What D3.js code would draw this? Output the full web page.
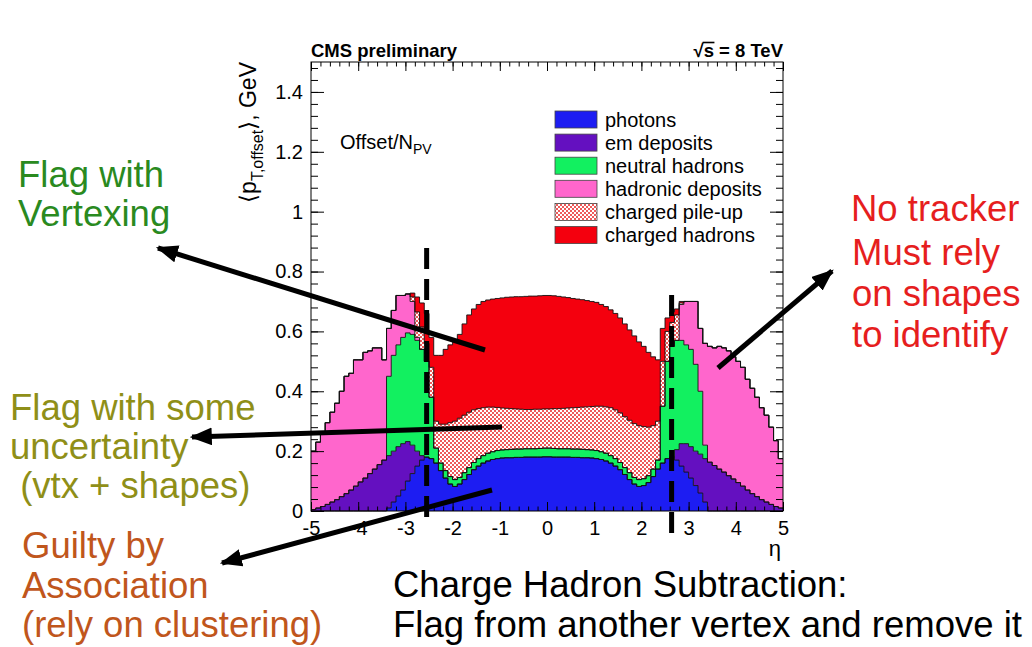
<!DOCTYPE html>
<html>
<head>
<meta charset="utf-8">
<script src="https://cdn.jsdelivr.net/npm/d3@7"></script>
<style>
  body { margin: 0; background: #fff; }
  svg { display: block; }
  text { font-family: "Liberation Sans", Arial, Helvetica, sans-serif; }
</style>
</head>
<body>
<svg id="chart" width="1032" height="647"></svg>
<script>
// Mean offset pT per pile-up vertex, stacked by PF candidate type, 0.1-wide eta bins from -5 to 5
const etaMin = -5, etaMax = 5, nBins = 100;

const photons = [
  0,0,0,0,0,0,0,0,0,0,0,0,0,0,0,0,
  .01,.03,.05,.07,.10,.125,.15,.17,.18,.175,.16,.135,.11,.09,.082,.09,.105,.122,.138,.15,
  .16,.167,.172,.175,.177,.178,.178,.179,.179,.18,.18,.18,.18,.181,.181,.18,.18,.18,.18,.179,
  .179,.178,.178,.177,.175,.172,.167,.16,.15,.138,.122,.105,.09,.082,.085,.095,.115,.14,.16,.175,
  .18,.17,.15,.13,.11,.085,.06,.03,
  0,0,0,0,0,0,0,0,0,0,0,0,0,0,0,0
];
const emDeposits = [
  .005,.01,.015,.022,.03,.038,.048,.058,.07,.083,.097,.11,.125,.14,.155,.17,
  .175,.17,.165,.155,.132,.095,.05,.015,
  0,0,0,0,0,0,0,0,0,0,0,0,0,0,0,0,0,0,0,0,0,0,0,0,0,0,0,0,0,0,0,0,0,0,0,0,0,0,0,0,0,0,0,0,0,0,0,0,0,0,0,0,0,
  .035,.075,.095,.105,.115,.13,.145,.163,.152,.14,.13,.118,.107,.095,.083,.07,.058,.048,.038,.03,.022,.015,.01
];
const neutralHadrons = [
  0,0,0,0,0,0,0,0,0,0,0,0,0,0,0,0,
  .265,.32,.34,.355,.363,.37,.37,.355,.32,.205,.05,.025,.025,.025,.023,.022,.023,.023,.024,.025,
  .025,.026,.026,.027,.027,.027,.028,.028,.028,.028,.028,.028,.029,.029,.029,.029,.028,.028,.028,.028,
  .028,.028,.027,.027,.027,.026,.026,.025,.025,.024,.023,.023,.022,.023,.023,.023,.025,.03,.19,.325,
  .37,.365,.345,.33,.325,.29,.21,.045,
  0,0,0,0,0,0,0,0,0,0,0,0,0,0,0,0
];
const hadronicDeposits = [
  .195,.22,.245,.273,.30,.322,.352,.392,.39,.422,.408,.42,.41,.405,.39,.335,
  .16,.15,.165,.14,.13,.11,.01,
  0,0,0,0,0,0,0,0,0,0,0,0,0,0,0,0,0,0,0,0,0,0,0,0,0,0,0,0,0,0,0,0,0,0,0,0,0,0,0,0,0,0,0,0,0,0,0,0,0,0,0,0,0,0,0,
  .12,.145,.16,.21,.21,.34,.387,.393,.41,.415,.417,.408,.405,.397,.37,.352,.332,.307,.29,.258,.22,.165
];
const chargedPileUp = [
  0,0,0,0,0,0,0,0,0,0,0,0,0,0,0,0,0,0,0,0,0,
  .015,.085,.075,.06,.10,.09,.13,.155,.18,.195,.198,.192,.185,.176,.167,.16,.154,.149,.144,.14,
  .138,.136,.134,.133,.131,.131,.132,.131,.131,.131,.133,.134,.135,.136,.138,.139,.141,.143,.145,.148,
  .152,.155,.16,.163,.166,.17,.175,.18,.18,.174,.162,.145,.13,.15,.10,.08,.085,.005,
  0,0,0,0,0,0,0,0,0,0,0,0,0,0,0,0,0,0,0,0,0
];
const chargedHadrons = [
  0,0,0,0,0,0,0,0,0,0,0,0,0,0,0,0,0,0,0,0,0,
  .013,.05,.08,.10,.10,.22,.23,.25,.26,.27,.28,.305,.325,.337,.348,.355,.358,.361,.364,.368,
  .371,.373,.375,.376,.378,.379,.378,.379,.379,.379,.377,.375,.372,.369,.365,.362,.359,.355,.351,.347,
  .34,.335,.327,.322,.317,.31,.302,.293,.28,.268,.25,.23,.205,.11,.045,.035,.02,.005,
  0,0,0,0,0,0,0,0,0,0,0,0,0,0,0,0,0,0,0,0,0
];

const seriesKeys   = ["photons", "emDeposits", "neutralHadrons", "hadronicDeposits", "chargedPileUp", "chargedHadrons"];
const legendLabels = ["photons", "em deposits", "neutral hadrons", "hadronic deposits", "charged pile-up", "charged hadrons"];
const seriesFill   = ["#1d1df2", "#6410c0", "#12f060", "#ff66cc", "url(#pileupFill)", "#f4000e"];

const xTicks = [-5, -4, -3, -2, -1, 0, 1, 2, 3, 4, 5];
const yTicks = [0, 0.2, 0.4, 0.6, 0.8, 1, 1.2, 1.4];

const svg = d3.select("#chart");
const frame = { left: 311, right: 783, top: 62, bottom: 511 };
const x = d3.scaleLinear().domain([etaMin, etaMax]).range([frame.left, frame.right]);
const y = d3.scaleLinear().domain([0, 1.5]).range([frame.bottom, frame.top]);
const binWidth = (etaMax - etaMin) / nBins;
const edge = i => etaMin + i * binWidth;

// checkered fill for the charged pile-up component
const defs = svg.append("defs");
const pat = defs.append("pattern").attr("id", "pileupFill")
  .attr("width", 4).attr("height", 4).attr("patternUnits", "userSpaceOnUse");
pat.append("rect").attr("width", 4).attr("height", 4).attr("fill", "#fff");
pat.append("rect").attr("width", 2).attr("height", 2).attr("fill", "#ee5a5a");
pat.append("rect").attr("x", 2).attr("y", 2).attr("width", 2).attr("height", 2).attr("fill", "#ee5a5a");

const arrowHead = defs.append("marker").attr("id", "arrowHead")
  .attr("markerUnits", "userSpaceOnUse").attr("viewBox", "0 0 20 16")
  .attr("markerWidth", 22).attr("markerHeight", 18).attr("refX", 18).attr("refY", 8)
  .attr("orient", "auto");
arrowHead.append("path").attr("d", "M0,0 L20,8 L0,16 Z").attr("fill", "#000");

// stacked histogram
const source = { photons, emDeposits, neutralHadrons, hadronicDeposits, chargedPileUp, chargedHadrons };
const rows = d3.range(nBins).map(i => {
  const r = { i };
  seriesKeys.forEach(k => { r[k] = source[k][i]; });
  return r;
});
const layers = d3.stack().keys(seriesKeys)(rows);

const stepPoints = layer => layer.flatMap((d, i) => [
  { e: edge(i), y0: d[0], y1: d[1] },
  { e: edge(i + 1), y0: d[0], y1: d[1] }
]);
const area = d3.area().x(p => x(p.e)).y0(p => y(p.y0)).y1(p => y(p.y1));
const topLine = d3.line().x(p => x(p.e)).y(p => y(p.y1));

const gHist = svg.append("g");
layers.forEach((layer, k) => {
  gHist.append("path").attr("d", area(stepPoints(layer))).attr("fill", seriesFill[k]).attr("stroke", "none");
});
layers.forEach(layer => {
  gHist.append("path").attr("d", topLine(stepPoints(layer)))
    .attr("fill", "none").attr("stroke", "#111").attr("stroke-width", 0.9);
});

// frame and axes (ticks on all four sides, pointing inward)
svg.append("rect").attr("x", frame.left).attr("y", frame.top)
  .attr("width", frame.right - frame.left).attr("height", frame.bottom - frame.top)
  .attr("fill", "none").attr("stroke", "#000").attr("stroke-width", 1);

const xMinor = d3.range(0, 51).map(i => etaMin + i * 0.2);
const yMinor = d3.range(0, 38).map(i => i * 0.04);
const tickStyle = g => {
  g.select(".domain").remove();
  g.selectAll("line").attr("stroke", "#000").attr("stroke-width", 1);
  g.selectAll("text").attr("fill", "#000").style("font-size", "20px")
    .style("font-family", "'Liberation Sans', Arial, Helvetica, sans-serif");
};

svg.append("g").attr("transform", `translate(0,${frame.bottom})`)
  .call(d3.axisBottom(x).tickValues(xMinor).tickSize(-4.5).tickFormat("")).call(tickStyle);
svg.append("g").attr("transform", `translate(0,${frame.bottom})`)
  .call(d3.axisBottom(x).tickValues(xTicks).tickSize(-9).tickPadding(10).tickFormat(d => String(d))).call(tickStyle);
svg.append("g").attr("transform", `translate(0,${frame.top})`)
  .call(d3.axisTop(x).tickValues(xMinor).tickSize(-4.5).tickFormat("")).call(tickStyle);
svg.append("g").attr("transform", `translate(0,${frame.top})`)
  .call(d3.axisTop(x).tickValues(xTicks).tickSize(-9).tickFormat("")).call(tickStyle);

svg.append("g").attr("transform", `translate(${frame.left},0)`)
  .call(d3.axisLeft(y).tickValues(yMinor).tickSize(-7).tickFormat("")).call(tickStyle);
svg.append("g").attr("transform", `translate(${frame.left},0)`)
  .call(d3.axisLeft(y).tickValues(yTicks).tickSize(-13).tickPadding(8).tickFormat(d => String(d))).call(tickStyle);
svg.append("g").attr("transform", `translate(${frame.right},0)`)
  .call(d3.axisRight(y).tickValues(yMinor).tickSize(-7).tickFormat("")).call(tickStyle);
svg.append("g").attr("transform", `translate(${frame.right},0)`)
  .call(d3.axisRight(y).tickValues(yTicks).tickSize(-13).tickFormat("")).call(tickStyle);

// axis titles
const yTitle = svg.append("text").attr("transform", `translate(256,${frame.top}) rotate(-90)`)
  .attr("text-anchor", "end").style("font-size", "23px").attr("fill", "#000");
yTitle.append("tspan").text("\u27E8p");
yTitle.append("tspan").attr("dy", 7).style("font-size", "16px").text("T,offset");
yTitle.append("tspan").attr("dy", -7).text("\u27E9, GeV");

svg.append("text").attr("x", frame.right - 2).attr("y", 556).attr("text-anchor", "end")
  .style("font-size", "22px").text("\u03B7");

// header
svg.append("text").attr("x", frame.left).attr("y", 57).style("font-size", "18.5px")
  .style("font-weight", "bold").text("CMS preliminary");
const energy = svg.append("text").attr("x", frame.right).attr("y", 57).attr("text-anchor", "end")
  .style("font-size", "18.5px").style("font-weight", "bold").text("\u221As = 8 TeV");
// bar of the radical over "s"
const en = energy.node();
const sx0 = en.getStartPositionOfChar(1).x, sx1 = en.getEndPositionOfChar(1).x;
svg.append("line").attr("x1", sx0 - 1).attr("x2", sx1 + 0.5).attr("y1", 42.5).attr("y2", 42.5)
  .attr("stroke", "#000").attr("stroke-width", 1.6);

const offTxt = svg.append("text").attr("x", 340).attr("y", 149).style("font-size", "20px");
offTxt.append("tspan").text("Offset/N");
offTxt.append("tspan").attr("dy", 5).style("font-size", "14px").text("PV");

// legend
const legend = svg.append("g");
legendLabels.forEach((lab, k) => {
  const cy = 119.5 + k * 23.1;
  legend.append("rect").attr("x", 555).attr("y", cy - 8.5).attr("width", 42).attr("height", 17)
    .attr("fill", seriesFill[k]).attr("stroke", "#444").attr("stroke-width", 0.8);
  legend.append("text").attr("x", 605).attr("y", cy + 7).style("font-size", "20px").text(lab);
});

// eta boundaries of the tracker / calorimeter transition
const boundaries = [
  { eta: -2.55, top: 248, bottom: 525 },
  { eta: 2.64, top: 295, bottom: 540 }
];
boundaries.forEach(b => {
  svg.append("line").attr("x1", x(b.eta)).attr("x2", x(b.eta)).attr("y1", b.top).attr("y2", b.bottom)
    .attr("stroke", "#000").attr("stroke-width", 5).attr("stroke-dasharray", "21,10");
});

// callout arrows
const arrows = [
  { from: [485, 350], to: [158, 248] },
  { from: [502, 427], to: [192, 437] },
  { from: [492, 490], to: [222, 563] },
  { from: [718, 368], to: [832, 271] }
];
arrows.forEach(a => {
  svg.append("line").attr("x1", a.from[0]).attr("y1", a.from[1]).attr("x2", a.to[0]).attr("y2", a.to[1])
    .attr("stroke", "#000").attr("stroke-width", 5).attr("marker-end", "url(#arrowHead)");
});

// slide annotations
const notes = [
  { lines: ["Flag with", "Vertexing"], x: 18, y: 187, dy: 39, color: "#2a8a1f" },
  { lines: ["No tracker"], x: 851, y: 221, dy: 0, color: "#e61e1e" },
  { lines: ["Must rely", "on shapes", "to identify"], x: 852, y: 265, dy: 41, color: "#e61e1e" },
  { lines: ["Flag with some", "uncertainty", " (vtx + shapes)"], x: 10, y: 420, dy: 39, color: "#8f8f18" },
  { lines: ["Guilty by", "Association", "(rely on clustering)"], x: 22, y: 558, dy: 39.5, color: "#c0561c" },
  { lines: ["Charge Hadron Subtraction:", "Flag from another vertex and remove it"], x: 393, y: 597, dy: 40, color: "#000" }
];
notes.forEach(n => {
  n.lines.forEach((t, i) => {
    svg.append("text").attr("x", n.x).attr("y", n.y + i * n.dy).attr("fill", n.color)
      .style("font-size", "36.5px").style("white-space", "pre").attr("xml:space", "preserve").text(t);
  });
});
</script>
</body>
</html>
